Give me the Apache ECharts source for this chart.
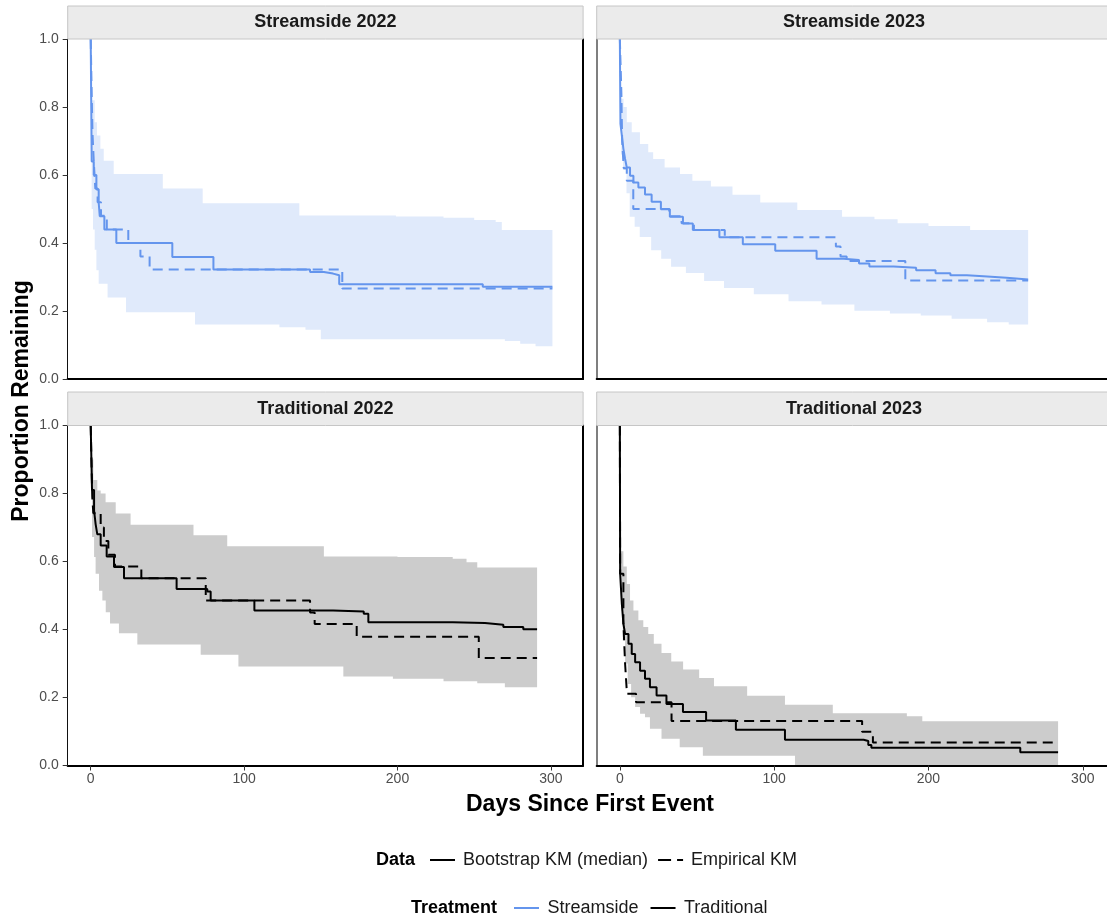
<!DOCTYPE html>
<html>
<head>
<meta charset="utf-8">
<script src="https://cdn.jsdelivr.net/npm/echarts@6/dist/echarts.min.js"></script>
<style>html,body{margin:0;padding:0;background:#fff;}#c{width:1107px;height:919px;}</style>
</head>
<body>
<div id="c"></div>
<script>
// ---------- data (time in days, proportion remaining) ----------
const panelTitles = ['Streamside 2022', 'Streamside 2023', 'Traditional 2022', 'Traditional 2023'];
const xTickValues = [0, 100, 200, 300];
const yTickValues = [0, 0.2, 0.4, 0.6, 0.8, 1.0];

// Streamside 2022
const ss22_median = [[0,1],[0.65,0.64],[2,0.60],[3.7,0.558],[5.2,0.519],[5.9,0.479],[8.9,0.44],[16.7,0.40],[53.2,0.359],[80,0.322],[143,0.315],[152,0.31],[158,0.305],[162,0.279],[255.6,0.271],[301,0.271]];
const ss22_empirical = [[0,1],[0.8,0.80],[1.2,0.72],[2,0.64],[3,0.56],[4.5,0.52],[6.7,0.48],[10.5,0.44],[24.5,0.40],[32.4,0.36],[38.4,0.322],[164,0.266],[301,0.266]];
const ss22_upper = [[0.6,0.82],[2.6,0.755],[4.1,0.716],[6.3,0.677],[8.5,0.642],[15,0.603],[47,0.56],[73,0.517],[136,0.481],[199,0.478],[230,0.474],[250,0.468],[264,0.462],[268,0.438],[301,0.438]];
const ss22_lower = [[0.6,0.50],[1.5,0.44],[2.6,0.38],[3.7,0.32],[5.2,0.28],[11,0.24],[23,0.196],[68,0.16],[123,0.152],[140,0.145],[150,0.117],[270,0.112],[280,0.104],[290,0.096],[301,0.088]];

// Streamside 2023
const ss23_median = [[0,1],[0.4,0.75],[1.3,0.716],[2.3,0.677],[3.4,0.647],[4.5,0.622],[6.6,0.598],[8.8,0.578],[12,0.563],[16.3,0.543],[20.6,0.521],[26.6,0.499],[32.4,0.477],[40.9,0.457],[47.3,0.438],[64.5,0.417],[79.7,0.396],[100.7,0.377],[127.5,0.354],[145,0.35],[155,0.34],[161.7,0.331],[177.4,0.327],[192,0.32],[204.6,0.311],[214.2,0.305],[224.9,0.302],[235.6,0.298],[250.6,0.293],[264.6,0.293]];
const ss23_empirical = [[0,1],[1,0.84],[1.5,0.70],[2.5,0.62],[4.5,0.583],[8.7,0.50],[32,0.479],[40,0.458],[48,0.438],[68,0.417],[140,0.39],[143,0.36],[147,0.347],[185,0.29],[264.6,0.29]];
const ss23_upper = [[0.9,0.824],[2.4,0.80],[4.5,0.755],[7.7,0.726],[13,0.691],[18.4,0.667],[21.6,0.647],[29,0.622],[39,0.603],[47,0.583],[59,0.566],[73,0.542],[91,0.519],[115,0.497],[144,0.477],[165,0.47],[180,0.458],[200,0.45],[227,0.438],[264.6,0.433]];
const ss23_lower = [[0.9,0.66],[2.1,0.615],[4.3,0.546],[6.4,0.477],[9.6,0.448],[12.9,0.418],[20.3,0.379],[26.8,0.354],[33.2,0.330],[42.8,0.312],[54.6,0.288],[67.5,0.268],[86.8,0.249],[109.3,0.229],[130.7,0.219],[152,0.201],[175,0.193],[195,0.187],[215,0.177],[238,0.167],[252,0.16],[264.6,0.155]];

// Traditional 2022
const tr22_median = [[0,1],[0.85,0.81],[2.2,0.75],[3.2,0.71],[4.3,0.68],[6.5,0.647],[10.4,0.615],[15.2,0.584],[21.7,0.551],[56,0.519],[76,0.512],[78.2,0.485],[106.7,0.456],[158,0.453],[178,0.446],[181,0.421],[236,0.419],[257,0.414],[269,0.407],[282,0.401],[291,0.401]];
const tr22_empirical = [[0,1],[1,0.79],[1.7,0.742],[6.5,0.70],[8.6,0.66],[11.5,0.62],[15.8,0.585],[33,0.551],[75,0.485],[143,0.45],[146,0.416],[173.4,0.379],[253,0.316],[291,0.316]];
const tr22_upper = [[0.85,0.9],[1.7,0.84],[4.3,0.809],[6.5,0.80],[9.7,0.774],[16.3,0.741],[26,0.708],[67,0.677],[89,0.645],[152,0.615],[200,0.613],[236,0.608],[245,0.598],[252,0.582],[291,0.582]];
const tr22_lower = [[0.85,0.672],[2.2,0.613],[3.2,0.564],[5.4,0.514],[7.6,0.485],[9.8,0.451],[12.6,0.418],[18.4,0.389],[30.4,0.356],[71.7,0.326],[96.3,0.291],[164.7,0.262],[197,0.255],[230,0.248],[252,0.242],[270,0.23],[291,0.218]];

// Traditional 2023
const tr23_median = [[0,1],[0.2,0.564],[1.3,0.475],[2.3,0.417],[3.4,0.387],[5.6,0.358],[7.7,0.328],[9.9,0.304],[13.1,0.279],[16.3,0.255],[19.5,0.230],[23.8,0.206],[30.2,0.181],[40.9,0.157],[55.9,0.132],[75.2,0.105],[107,0.0756],[158,0.072],[161,0.06],[163,0.052],[259.5,0.039],[284,0.039]];
const tr23_empirical = [[0,1],[0.2,0.564],[2.3,0.417],[3.4,0.30],[4.6,0.211],[10.5,0.186],[33.5,0.131],[157,0.099],[164,0.068],[284,0.068]];
const tr23_upper = [[0.4,0.63],[2.3,0.585],[4.5,0.534],[6.6,0.485],[8.8,0.456],[12,0.427],[15.2,0.407],[18.4,0.387],[22,0.358],[27,0.331],[33.3,0.306],[41,0.282],[51.4,0.257],[61,0.233],[82.5,0.205],[107,0.179],[138,0.154],[186,0.145],[196,0.130],[284,0.130]];
const tr23_lower = [[0.4,0.56],[0.9,0.456],[1.9,0.368],[3.4,0.30],[5.1,0.24],[7.3,0.201],[9.9,0.172],[13.1,0.152],[16.3,0.142],[19.5,0.108],[27,0.079],[38.8,0.054],[53.8,0.029],[113.5,0],[284,0]];

// ---------- styling / layout ----------
const FONT = '"Liberation Sans", Arial, Helvetica, sans-serif';
const BLUE = '#6495ED', BLUE_BAND = '#e0eafb', GREY_BAND = '#cccccc';
const panels = [
  {median: ss22_median, emp: ss22_empirical, hi: ss22_upper, lo: ss22_lower, color: BLUE, band: BLUE_BAND},
  {median: ss23_median, emp: ss23_empirical, hi: ss23_upper, lo: ss23_lower, color: BLUE, band: BLUE_BAND},
  {median: tr22_median, emp: tr22_empirical, hi: tr22_upper, lo: tr22_lower, color: '#000', band: GREY_BAND},
  {median: tr23_median, emp: tr23_empirical, hi: tr23_upper, lo: tr23_lower, color: '#000', band: GREY_BAND}
];
const grids = [
  {left: 67.7, top: 39, width: 515.4, height: 340},
  {left: 596.7, top: 39, width: 514.6, height: 340},
  {left: 67.7, top: 425.5, width: 515.4, height: 340},
  {left: 596.7, top: 425.5, width: 514.6, height: 340}
];
const xMax = [321, 315.7, 321, 315.7];

// expand a step function (value holds until next time) into its corner points
function stepPoints(arr) {
  const out = [];
  for (let k = 0; k < arr.length; k++) {
    out.push(arr[k]);
    if (k + 1 < arr.length) out.push([arr[k + 1][0], arr[k][1]]);
  }
  return out;
}

const xAxes = [], yAxes = [], series = [], graphics = [];
grids.forEach((g, i) => {
  const bottomRow = i >= 2, leftCol = i % 2 === 0;
  xAxes.push({
    type: 'value', gridIndex: i, min: -15, max: xMax[i], z: 10,
    axisLine: {show: true, onZero: false, lineStyle: {color: '#000', width: 2}},
    axisTick: {show: bottomRow, length: 5, customValues: xTickValues, lineStyle: {color: '#333', width: 1}},
    axisLabel: {show: bottomRow, customValues: xTickValues, fontSize: 14, color: '#4d4d4d', fontFamily: FONT, margin: 7},
    splitLine: {show: false}
  });
  yAxes.push({
    type: 'value', gridIndex: i, min: 0, max: 1, interval: 0.2, z: 10,
    axisLine: {show: true, onZero: false, lineStyle: {color: leftCol ? '#111' : '#555', width: leftCol ? 1 : 1.5}},
    axisTick: {show: leftCol, length: 5, lineStyle: {color: '#333'}},
    axisLabel: {show: leftCol, fontSize: 14, color: '#4d4d4d', fontFamily: FONT, margin: 9, formatter: v => v.toFixed(1)},
    splitLine: {show: false}
  });
  const p = panels[i];
  // confidence band as a step ribbon polygon, mapped through the axes
  series.push({
    type: 'custom', name: 'band', xAxisIndex: i, yAxisIndex: i, silent: true, z: 1,
    data: [[p.hi[0][0], p.hi[0][1]]],
    renderItem: (params, api) => {
      const upper = stepPoints(p.hi);
      const lower = stepPoints(p.lo).reverse();
      const pts = upper.concat(lower).map(d => api.coord(d));
      return {type: 'polygon', shape: {points: pts}, style: {fill: p.band, stroke: null}};
    }
  });
  series.push({type: 'line', name: 'Empirical KM', xAxisIndex: i, yAxisIndex: i, step: 'end', data: p.emp, showSymbol: false, symbol: 'none', z: 3,
    lineStyle: {color: p.color, width: 2, type: [10, 6]}});
  series.push({type: 'line', name: 'Bootstrap KM (median)', xAxisIndex: i, yAxisIndex: i, step: 'end', data: p.median, showSymbol: false, symbol: 'none', z: 4,
    lineStyle: {color: p.color, width: 2}});
  // strip
  const sy = bottomRow ? 392 : 6, sh = bottomRow ? 33.5 : 33;
  graphics.push({type: 'rect', shape: {x: g.left, y: sy, width: g.width, height: sh}, style: {fill: '#ebebeb', stroke: '#c6c6c6', lineWidth: 1}, z: 20});
  graphics.push({type: 'text', x: g.left + g.width / 2, y: sy + sh / 2, z: 21,
    style: {text: panelTitles[i], font: 'bold 18px ' + FONT, fill: '#1a1a1a', textAlign: 'center', textVerticalAlign: 'middle'}});
});
// right border of the left-column panels
[0, 2].forEach(i => {
  yAxes.push({type: 'value', gridIndex: i, position: 'right', min: 0, max: 1, z: 10,
    axisLine: {show: true, onZero: false, lineStyle: {color: '#000', width: 2}}, axisTick: {show: false}, axisLabel: {show: false}, splitLine: {show: false}});
});
// legend-only series
series.push({type: 'line', name: 'Streamside', xAxisIndex: 0, yAxisIndex: 0, data: [], lineStyle: {color: BLUE}});
series.push({type: 'line', name: 'Traditional', xAxisIndex: 0, yAxisIndex: 0, data: [], lineStyle: {color: '#000'}});

graphics.push({type: 'text', x: 590, y: 805, style: {text: 'Days Since First Event', font: 'bold 23px ' + FONT, fill: '#000', textAlign: 'center', textVerticalAlign: 'middle'}});
graphics.push({type: 'text', x: 22, y: 401, rotation: Math.PI / 2, style: {text: 'Proportion Remaining', font: 'bold 23px ' + FONT, fill: '#000', textAlign: 'center', textVerticalAlign: 'middle'}});
graphics.push({type: 'text', x: 376, y: 860, style: {text: 'Data', font: 'bold 18px ' + FONT, fill: '#000', textAlign: 'left', textVerticalAlign: 'middle'}});
graphics.push({type: 'text', x: 411, y: 908, style: {text: 'Treatment', font: 'bold 18px ' + FONT, fill: '#000', textAlign: 'left', textVerticalAlign: 'middle'}});

const legendText = {fontSize: 18, color: '#1a1a1a', fontFamily: FONT, padding: [0, 0, 0, 3]};
const option = {
  animation: false,
  backgroundColor: '#fff',
  grid: grids,
  xAxis: xAxes,
  yAxis: yAxes,
  series: series,
  legend: [
    {data: [
      {name: 'Bootstrap KM (median)', icon: 'path://M0,0H25V2H0Z', itemStyle: {color: '#000', borderWidth: 0}},
      {name: 'Empirical KM', icon: 'path://M0,0H13V2H0Z M19,0H25V2H19Z', itemStyle: {color: '#000', borderWidth: 0}}
    ], left: 430, top: 851, padding: 0, itemWidth: 25, itemHeight: 2, itemGap: 10, selectedMode: false, textStyle: legendText},
    {data: [
      {name: 'Streamside', icon: 'path://M0,0H25V2H0Z', itemStyle: {color: BLUE, borderWidth: 0}},
      {name: 'Traditional', icon: 'path://M0,0H25V2H0Z', itemStyle: {color: '#000', borderWidth: 0}}
    ], left: 514, top: 899, padding: 0, itemWidth: 26, itemHeight: 2, itemGap: 12, selectedMode: false, textStyle: legendText}
  ],
  graphic: graphics
};
const chart = echarts.init(document.getElementById('c'), null, {renderer: 'canvas'});
chart.setOption(option);
</script>
</body>
</html>
